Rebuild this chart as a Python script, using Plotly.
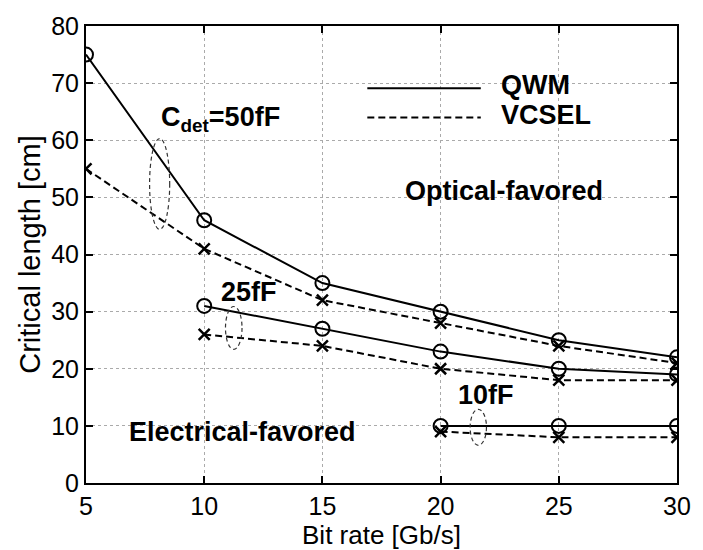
import plotly.graph_objects as go

bit_rate_50 = [5, 10, 15, 20, 25, 30]
qwm_50 = [75, 46, 35, 30, 25, 22]
vcsel_50 = [55, 41, 32, 28, 24, 21]

bit_rate_25 = [10, 15, 20, 25, 30]
qwm_25 = [31, 27, 23, 20, 19]
vcsel_25 = [26, 24, 20, 18, 18]

bit_rate_10 = [20, 25, 30]
qwm_10 = [10, 10, 10]
vcsel_10 = [9, 8, 8]

x_ticks = [5, 10, 15, 20, 25, 30]
y_ticks = [0, 10, 20, 30, 40, 50, 60, 70, 80]

FONT = "Liberation Sans, Arial, sans-serif"
DASH = "7px,4px"
fig = go.Figure()

def add_pair(x, q, v):
    fig.add_trace(go.Scatter(x=x, y=q, mode="lines+markers",
                             line=dict(color="black", width=2),
                             marker=dict(symbol="circle-open", size=14, color="black",
                                         line=dict(width=2, color="black")),
                             showlegend=False))
    fig.add_trace(go.Scatter(x=x, y=v, mode="lines+markers",
                             line=dict(color="black", width=2, dash=DASH),
                             marker=dict(symbol="x-thin-open", size=11, color="black",
                                         line=dict(width=2.5, color="black")),
                             showlegend=False))

add_pair(bit_rate_50, qwm_50, vcsel_50)
add_pair(bit_rate_25, qwm_25, vcsel_25)
add_pair(bit_rate_10, qwm_10, vcsel_10)

# legend (manual)
fig.add_trace(go.Scatter(x=[16.9, 21.7], y=[69.1, 69.1], mode="lines",
                         line=dict(color="black", width=2), showlegend=False, hoverinfo="skip"))
fig.add_trace(go.Scatter(x=[16.9, 21.7], y=[64.0, 64.0], mode="lines",
                         line=dict(color="black", width=2, dash=DASH), showlegend=False, hoverinfo="skip"))

ann_font = dict(family=FONT, size=27, color="black")
annotations = [
    dict(x=22.45, y=69.6, text="<b>QWM</b>", xanchor="left"),
    dict(x=22.45, y=64.4, text="<b>VCSEL</b>", xanchor="left"),
    dict(x=8.1, y=63.8, text="<b>C<sub>det</sub>=50fF</b>", xanchor="left"),
    dict(x=11.9, y=33.5, text="<b>25fF</b>", xanchor="center"),
    dict(x=21.9, y=15.4, text="<b>10fF</b>", xanchor="center"),
    dict(x=22.7, y=51.1, text="<b>Optical-favored</b>", xanchor="center"),
    dict(x=11.6, y=9.0, text="<b>Electrical-favored</b>", xanchor="center"),
]
for a in annotations:
    a.update(xref="x", yref="y", showarrow=False, font=ann_font, yanchor="middle")

ell = dict(type="circle", xref="x", yref="y", line=dict(color="#333333", width=1.2, dash="4px,3px"))
shapes = [
    dict(ell, x0=7.69, x1=8.54, y0=44.4, y1=60.3),
    dict(ell, x0=10.9, x1=11.6, y0=23.4, y1=30.9),
    dict(ell, x0=21.25, x1=21.94, y0=6.6, y1=12.9),
]

axis_common = dict(showline=True, linecolor="black", linewidth=2, mirror="ticks",
                   ticks="inside", ticklen=7, tickwidth=2, tickcolor="black",
                   showgrid=True, gridcolor="#aaaaaa", gridwidth=1, griddash="dot",
                   zeroline=False, tickfont=dict(family=FONT, size=25, color="black"))

fig.update_layout(
    width=703, height=550,
    margin=dict(l=86, r=21, t=22, b=61),
    plot_bgcolor="white", paper_bgcolor="white",
    annotations=annotations, shapes=shapes,
    xaxis=dict(axis_common, range=[5, 30], tickvals=x_ticks,
               title=dict(text="Bit rate [Gb/s]", font=dict(family=FONT, size=26, color="black"), standoff=0)),
    yaxis=dict(axis_common, range=[0, 80], tickvals=y_ticks,
               title=dict(text="Critical length [cm]", font=dict(family=FONT, size=29, color="black"), standoff=2)),
)

fig.write_html("out.html")
